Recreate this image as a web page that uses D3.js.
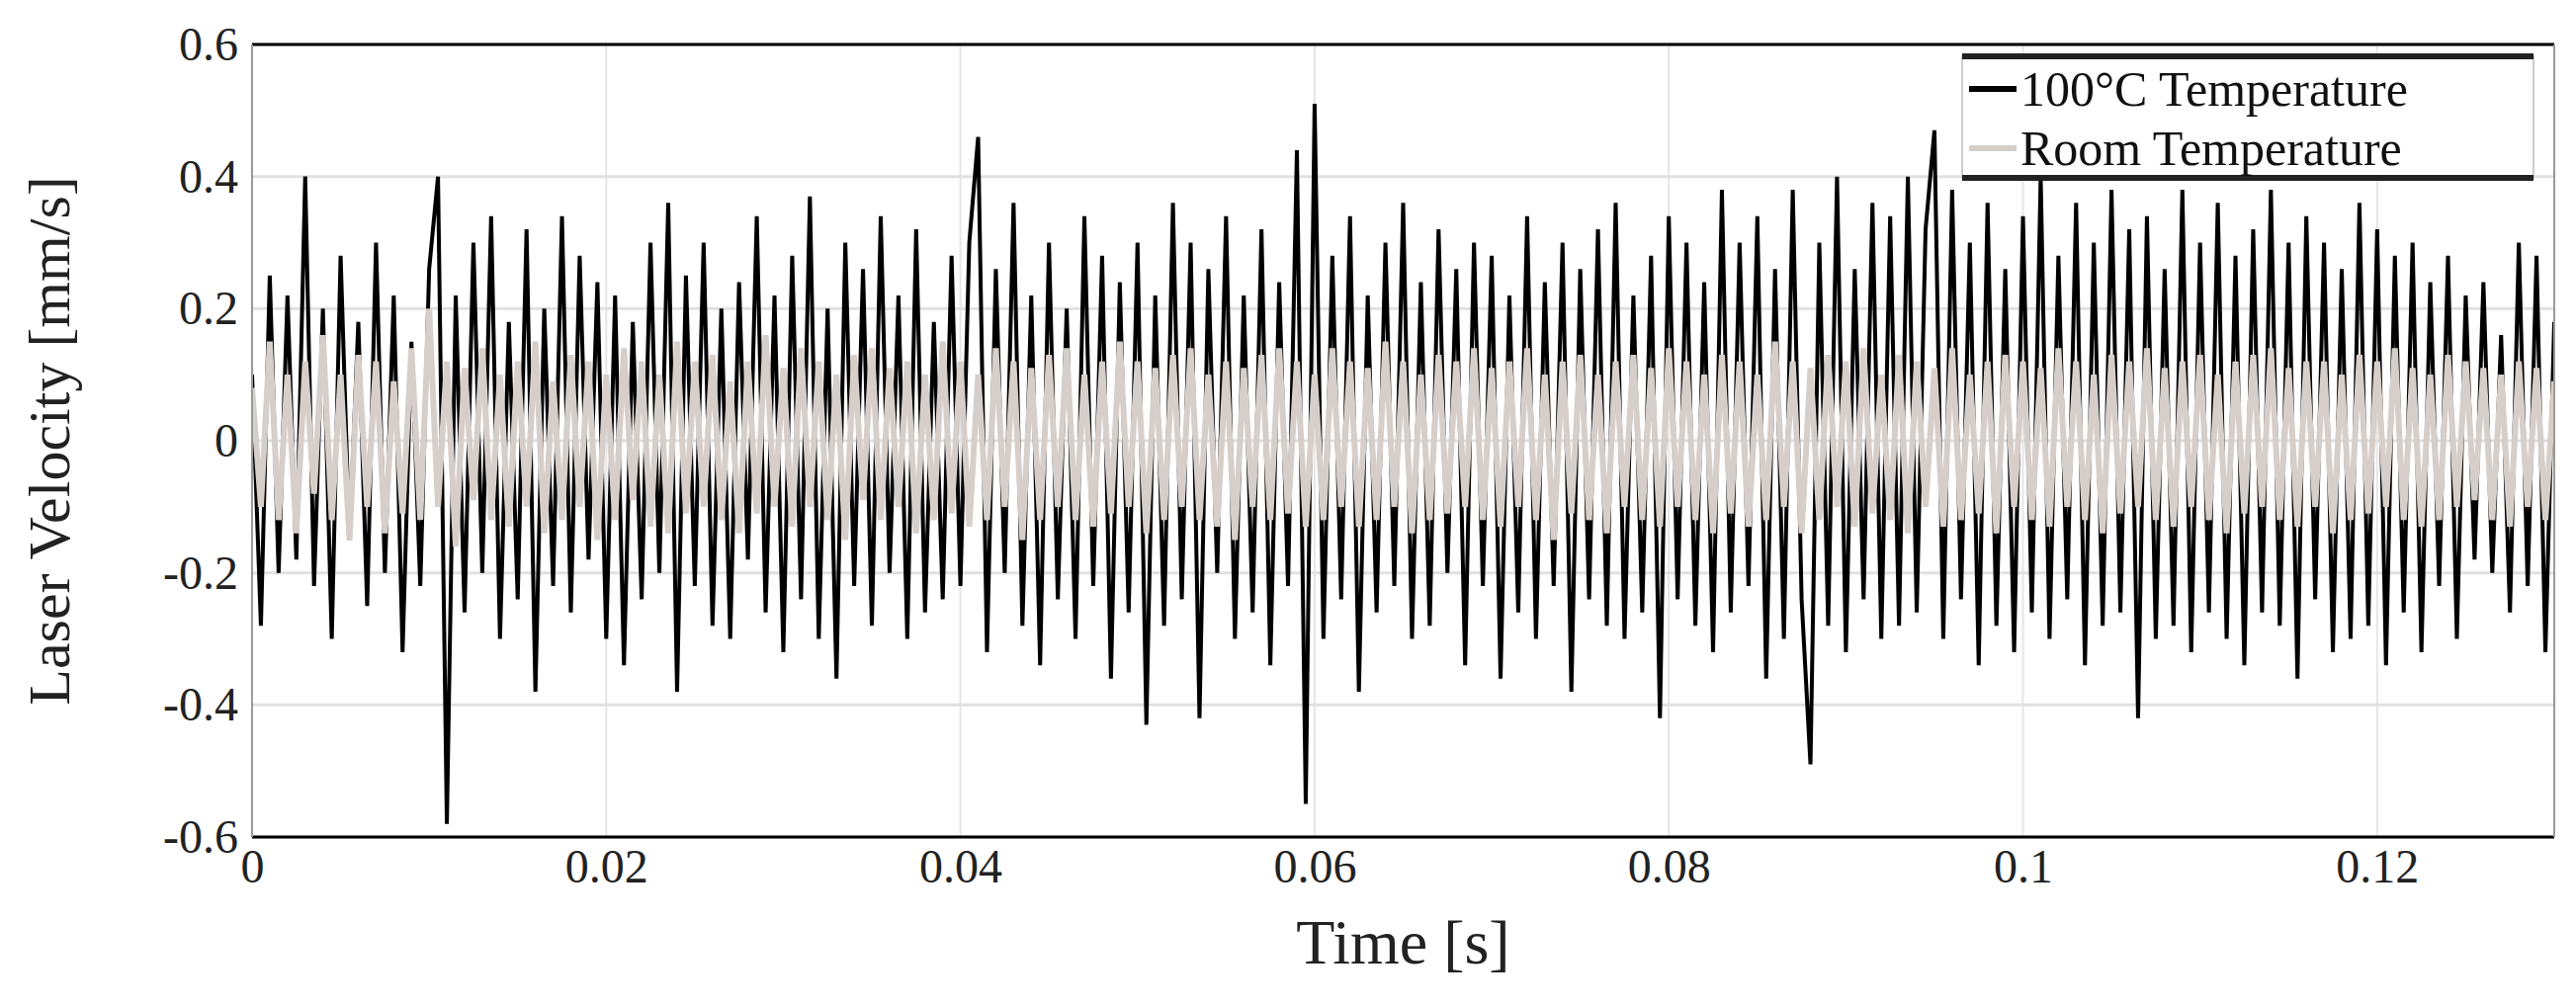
<!DOCTYPE html><html><head><meta charset="utf-8"><script src="https://cdn.jsdelivr.net/npm/d3@7"></script>
<style>body{margin:0;background:#fff}</style></head><body><svg id="c" width="2606" height="1019"></svg>
<script>
const dt = 0.0005;
const hotValues = [
0.10,-0.28,0.25,-0.20,0.22,-0.18,0.40,-0.22,0.20,-0.30,0.28,-0.15,0.18,-0.25,0.30,-0.20,0.22,-0.32,0.15,-0.22,
0.26,0.40,-0.58,0.22,-0.26,0.30,-0.20,0.34,-0.30,0.18,-0.24,0.32,-0.38,0.20,-0.22,0.34,-0.26,0.28,-0.18,0.24,
-0.30,0.22,-0.34,0.18,-0.24,0.30,-0.20,0.36,-0.38,0.25,-0.22,0.30,-0.28,0.20,-0.30,0.24,-0.18,0.34,-0.26,0.22,
-0.32,0.28,-0.24,0.37,-0.30,0.20,-0.36,0.30,-0.22,0.26,-0.28,0.34,-0.20,0.22,-0.30,0.32,-0.26,0.18,-0.24,0.28,
-0.22,0.30,0.46,-0.32,0.26,-0.20,0.36,-0.28,0.22,-0.34,0.30,-0.24,0.20,-0.30,0.34,-0.22,0.28,-0.36,0.24,-0.26,
0.30,-0.43,0.22,-0.28,0.36,-0.24,0.30,-0.42,0.26,-0.20,0.34,-0.30,0.22,-0.26,0.32,-0.34,0.24,-0.22,0.44,-0.55,
0.51,-0.30,0.28,-0.24,0.34,-0.38,0.22,-0.26,0.30,-0.22,0.36,-0.30,0.24,-0.28,0.32,-0.20,0.26,-0.34,0.30,-0.22,
0.28,-0.36,0.22,-0.26,0.34,-0.30,0.24,-0.22,0.30,-0.38,0.26,-0.24,0.32,-0.28,0.36,-0.30,0.22,-0.26,0.28,-0.42,
0.34,-0.24,0.30,-0.28,0.24,-0.32,0.38,-0.26,0.30,-0.22,0.34,-0.36,0.26,-0.30,0.38,-0.24,-0.49,0.30,-0.28,0.40,
-0.32,0.26,-0.24,0.36,-0.30,0.34,-0.28,0.40,-0.26,0.32,0.47,-0.30,0.38,-0.24,0.30,-0.34,0.36,-0.28,0.26,-0.32,
0.34,-0.26,0.40,-0.30,0.28,-0.24,0.36,-0.34,0.30,-0.28,0.38,-0.26,0.32,-0.42,0.34,-0.30,0.26,-0.28,0.38,-0.32,
0.30,-0.26,0.36,-0.30,0.28,-0.34,0.32,-0.26,0.38,-0.28,0.30,-0.36,0.34,-0.24,0.30,-0.32,0.26,-0.30,0.36,-0.28,
0.32,-0.34,0.28,-0.26,0.30,-0.32,0.24,-0.22,0.28,-0.30,0.22,-0.18,0.24,-0.20,0.16,-0.26,0.30,-0.22,0.28,-0.32,0.18,-0.12
];
const roomValues = [
0.08,-0.10,0.15,-0.12,0.10,-0.14,0.12,-0.08,0.16,-0.12,0.10,-0.15,0.13,-0.10,0.12,-0.14,0.09,-0.11,0.14,-0.12,
0.20,-0.10,0.12,-0.16,0.11,-0.09,0.14,-0.12,0.10,-0.13,0.12,-0.10,0.15,-0.14,0.09,-0.12,0.13,-0.10,0.12,-0.15,
0.10,-0.12,0.14,-0.09,0.12,-0.13,0.10,-0.14,0.15,-0.11,0.12,-0.10,0.13,-0.12,0.09,-0.14,0.12,-0.11,0.16,-0.10,
0.11,-0.13,0.14,-0.10,0.12,-0.12,0.10,-0.15,0.13,-0.09,0.14,-0.12,0.11,-0.10,0.12,-0.14,0.10,-0.12,0.15,-0.11,
0.12,-0.13,0.10,-0.12,0.14,-0.10,0.12,-0.15,0.11,-0.12,0.13,-0.10,0.14,-0.12,0.10,-0.13,0.12,-0.11,0.15,-0.10,
0.12,-0.14,0.11,-0.12,0.13,-0.10,0.14,-0.12,0.10,-0.13,0.12,-0.15,0.11,-0.10,0.13,-0.12,0.14,-0.11,0.12,-0.13,
0.10,-0.12,0.14,-0.10,0.12,-0.13,0.11,-0.12,0.15,-0.10,0.12,-0.14,0.10,-0.12,0.13,-0.11,0.12,-0.10,0.14,-0.12,
0.11,-0.13,0.12,-0.10,0.14,-0.12,0.10,-0.15,0.12,-0.11,0.13,-0.12,0.10,-0.14,0.12,-0.10,0.13,-0.12,0.11,-0.13,
0.14,-0.10,0.12,-0.12,0.10,-0.14,0.13,-0.11,0.12,-0.13,0.10,-0.12,0.15,-0.10,0.12,-0.14,0.11,-0.12,0.13,-0.10,
0.12,-0.13,0.14,-0.11,0.10,-0.12,0.13,-0.14,0.12,-0.10,0.11,-0.13,0.14,-0.12,0.10,-0.11,0.12,-0.14,0.13,-0.10,
0.12,-0.12,0.11,-0.13,0.14,-0.10,0.12,-0.12,0.10,-0.14,0.13,-0.11,0.12,-0.10,0.14,-0.12,0.11,-0.13,0.12,-0.10,
0.13,-0.12,0.10,-0.14,0.12,-0.11,0.13,-0.10,0.14,-0.12,0.11,-0.13,0.12,-0.10,0.12,-0.14,0.10,-0.12,0.13,-0.11,
0.12,-0.10,0.14,-0.12,0.11,-0.13,0.10,-0.12,0.13,-0.10,0.12,-0.09,0.11,-0.12,0.10,-0.13,0.12,-0.10,0.11,-0.12,0.09,-0.05
];
const xTicks = [0,0.02,0.04,0.06,0.08,0.1,0.12];
const yTicks = [-0.6,-0.4,-0.2,0,0.2,0.4,0.6];
const xTickLabels = ["0","0.02","0.04","0.06","0.08","0.1","0.12"];
const yTickLabels = ["-0.6","-0.4","-0.2","0","0.2","0.4","0.6"];
const seriesNames = ["100°C Temperature","Room Temperature"];
const seriesColors = ["#000000","#d6cec9"];

const L=255,R=2584,T=45,B=847;
const svg=d3.select("#c");
const x=d3.scaleLinear().domain([0,0.13]).range([L,R]);
const y=d3.scaleLinear().domain([-0.6,0.6]).range([B,T]);
const ff="Liberation Serif, Times New Roman, serif";
svg.append("g").selectAll("line").data(xTicks).join("line").attr("x1",d=>x(d)).attr("x2",d=>x(d)).attr("y1",T).attr("y2",B).attr("stroke","#e6e6e6").attr("stroke-width",2);
svg.append("g").selectAll("line").data(yTicks).join("line").attr("y1",d=>y(d)).attr("y2",d=>y(d)).attr("x1",L).attr("x2",R).attr("stroke","#e0e0e0").attr("stroke-width",3);
const clip=svg.append("clipPath").attr("id","pc").append("rect").attr("x",L).attr("y",T).attr("width",R-L).attr("height",B-T);
const line=d3.line().x((d,i)=>x(i*dt)).y(d=>y(d));
const pg=svg.append("g").attr("clip-path","url(#pc)");
pg.append("path").datum(hotValues).attr("d",line).attr("fill","none").attr("stroke",seriesColors[0]).attr("stroke-width",4);
pg.append("path").datum(roomValues).attr("d",line).attr("fill","none").attr("stroke",seriesColors[1]).attr("stroke-width",6);
svg.append("line").attr("x1",L).attr("x2",R).attr("y1",T).attr("y2",T).attr("stroke","#000").attr("stroke-width",3);
svg.append("line").attr("x1",L).attr("x2",R).attr("y1",B).attr("y2",B).attr("stroke","#000").attr("stroke-width",3);
svg.append("line").attr("x1",L).attr("x2",L).attr("y1",T).attr("y2",B).attr("stroke","#999").attr("stroke-width",2);
svg.append("line").attr("x1",R).attr("x2",R).attr("y1",T).attr("y2",B).attr("stroke","#999").attr("stroke-width",2);
const xa=svg.append("g").attr("transform",`translate(0,${B})`).call(d3.axisBottom(x).tickValues(xTicks).tickSize(0).tickPadding(12).tickFormat((d,i)=>xTickLabels[i]));
xa.select(".domain").remove();
xa.selectAll("text").attr("font-family",ff).attr("font-size",48).attr("fill","#222");
const ya=svg.append("g").attr("transform",`translate(${L},0)`).call(d3.axisLeft(y).tickValues(yTicks).tickSize(0).tickPadding(14).tickFormat((d,i)=>yTickLabels[i]));
ya.select(".domain").remove();
ya.selectAll("text").attr("font-family",ff).attr("font-size",48).attr("fill","#222");
svg.append("text").attr("x",(L+R)/2).attr("y",975).attr("text-anchor","middle").attr("font-family",ff).attr("font-size",64).attr("fill","#222").text("Time [s]");
svg.append("text").attr("transform",`translate(70,${(T+B)/2}) rotate(-90)`).attr("text-anchor","middle").attr("font-family",ff).attr("font-size",60).attr("fill","#222").text("Laser Velocity [mm/s]");
const lg=svg.append("g");
lg.append("rect").attr("x",1985).attr("y",57).attr("width",578).attr("height",123).attr("fill","#fff").attr("stroke","#ccc").attr("stroke-width",2);
lg.append("line").attr("x1",1985).attr("x2",2563).attr("y1",57).attr("y2",57).attr("stroke","#222").attr("stroke-width",6);
lg.append("line").attr("x1",1985).attr("x2",2563).attr("y1",180).attr("y2",180).attr("stroke","#222").attr("stroke-width",6);
seriesNames.forEach((n,i)=>{
  const yy=90+i*60;
  lg.append("line").attr("x1",1992).attr("x2",2040).attr("y1",yy).attr("y2",yy).attr("stroke",seriesColors[i]).attr("stroke-width",6);
  lg.append("text").attr("x",2044).attr("y",yy+17).attr("font-family",ff).attr("font-size",50).attr("fill","#111").text(n);
});
</script></body></html>
